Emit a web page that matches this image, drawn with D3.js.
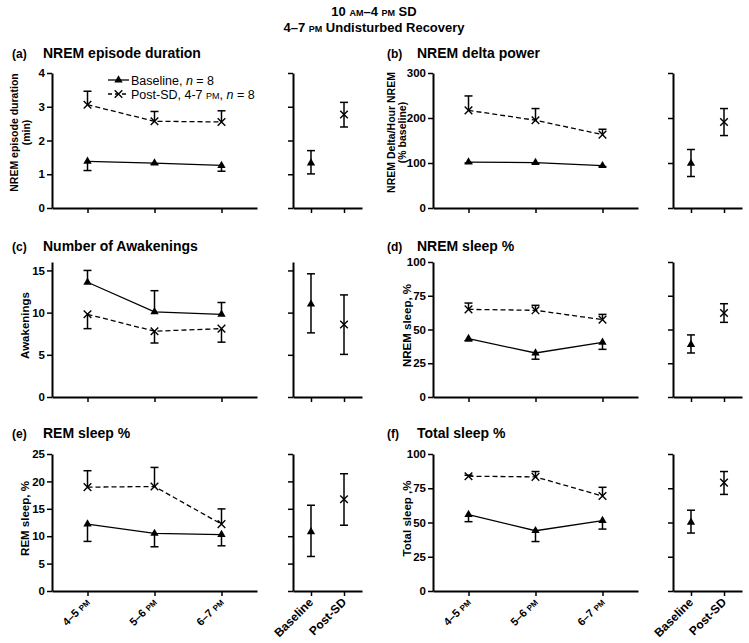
<!DOCTYPE html>
<html><head><meta charset="utf-8">
<script src="https://cdn.jsdelivr.net/npm/d3@7"></script>
<style>
html,body{margin:0;padding:0;background:#fff;}
svg{display:block;font-family:"Liberation Sans",Arial,Helvetica,sans-serif;}
</style></head>
<body>
<svg id="chart" width="749" height="643"></svg>
<script>
// ---------- DATA ----------
const timeLabels = ["4–5 PM", "5–6 PM", "6–7 PM"];
const sideLabels = ["Baseline", "Post-SD"];
const panelIds = ["a", "b", "c", "d", "e", "f"];
const panelTitles = ["NREM episode duration", "NREM delta power", "Number of Awakenings", "NREM sleep %", "REM sleep %", "Total sleep %"];
const yLabels = [["NREM episode duration", "(min)"], ["NREM Delta/Hour NREM", "(% baseline)"], ["Awakenings"], ["NREM sleep, %"], ["REM sleep, %"], ["Total sleep ,%"]];
const yMax = [4, 300, 16, 100, 25, 100];
const yTicks = [[0,1,2,3,4],[0,100,200,300],[0,5,10,15],[0,25,50,75,100],[0,5,10,15,20,25],[0,25,50,75,100]];
// hourly means and the end of the (one-sided) error bar
const baselineMean = [[1.38,1.33,1.26],[102,101,94],[13.6,10.1,9.8],[43.2,32.6,40.5],[12.2,10.5,10.3],[55.8,44.0,51.4]];
const baselineErr  = [[1.11,1.30,1.09],[100,99,92],[15.0,12.6,11.2],[41.5,28.0,35.3],[9.05,8.07,8.25],[50.6,36.1,45.2]];
const postSDMean   = [[3.06,2.57,2.55],[217,195,163],[9.8,7.8,8.1],[64.9,64.2,57.3],[18.95,19.07,12.2],[83.8,83.3,69.3]];
const postSDErr    = [[3.46,2.86,2.88],[249,221,175],[8.1,6.4,6.5],[69.6,67.9,61.2],[21.95,22.55,14.98],[84.5,87.2,75.7]];
// overall (3-h) means with [low, high]
const sideBaselineMean = [1.33, 99, 11.0, 38.8, 10.8, 50.1];
const sideBaselineRange = [[1.01,1.70],[70,130],[7.6,14.6],[32.6,46.0],[6.3,15.65],[42.3,58.97]];
const sidePostMean = [2.77, 191, 8.6, 62.2, 16.75, 79.1];
const sidePostRange = [[2.40,3.13],[161,221],[5.05,12.1],[55.3,69.1],[12.0,21.4],[70.5,87.2]];

// ---------- LAYOUT ----------
const svg = d3.select("#chart");
const cols = [
  {yAxisX:52, mainEnd:257, sideX0:293, sideEnd:362, labX:12, titleX:43, ylab:[18,30], ylab1:29},
  {yAxisX:433, mainEnd:638, sideX0:673, sideEnd:742, labX:387, titleX:417, ylab:[395,406], ylab1:411}
];
const rows = [
  {top:73, bottom:208, titleY:58},
  {top:262, bottom:397, titleY:251},
  {top:454, bottom:591, titleY:438}
];

// main title
const t1 = svg.append("text").attr("x", 374).attr("y", 16).attr("text-anchor","middle")
  .attr("font-weight","bold").attr("font-size",13);
t1.append("tspan").text("10 ");
t1.append("tspan").attr("font-size",9).text("AM");
t1.append("tspan").text("–4 ");
t1.append("tspan").attr("font-size",9).text("PM");
t1.append("tspan").text(" SD");
const t2 = svg.append("text").attr("x", 374).attr("y", 32).attr("text-anchor","middle")
  .attr("font-weight","bold").attr("font-size",13);
t2.append("tspan").text("4–7 ");
t2.append("tspan").attr("font-size",9).text("PM");
t2.append("tspan").text(" Undisturbed Recovery");

function styleAxis(g){
  g.select(".domain").attr("stroke","#000").attr("stroke-width",2);
  g.selectAll(".tick line").attr("stroke","#000").attr("stroke-width",1.5);
  g.selectAll(".tick text").attr("fill","#000").attr("font-weight","bold").attr("font-size",11.5)
    .attr("font-family","'Liberation Sans',Arial,sans-serif");
}

const tri = d3.symbol().type(d3.symbolTriangle).size(30);
function drawTri(g, x, y){ g.append("path").attr("d", tri()).attr("transform",`translate(${x},${y})`).attr("fill","#000"); }
function drawCross(g, x, y){
  g.append("path").attr("d","M-3.8,-3.8L3.8,3.8M-3.8,3.8L3.8,-3.8")
   .attr("transform",`translate(${x},${y})`).attr("stroke","#000").attr("stroke-width",1.4).attr("fill","none");
}
function errBar(g, x, y0, y1, caps){
  g.append("line").attr("x1",x).attr("x2",x).attr("y1",y0).attr("y2",y1).attr("stroke","#000").attr("stroke-width",1.5);
  caps.forEach(cy => g.append("line").attr("x1",x-4).attr("x2",x+4).attr("y1",cy).attr("y2",cy).attr("stroke","#000").attr("stroke-width",1.5));
}
const diag = (tx, ty) => `matrix(0.7071,-0.7071,0.7071,0.7071,${tx},${ty})`;

panelIds.forEach((id, i) => {
  const c = cols[i % 2], r = rows[Math.floor(i / 2)];
  const g = svg.append("g");
  const y = d3.scaleLinear().domain([0, yMax[i]]).range([r.bottom, r.top]);
  const x = d3.scalePoint().domain(timeLabels).range([c.yAxisX, c.mainEnd]).padding(0.53);
  const xs = d3.scalePoint().domain(sideLabels).range([c.sideX0, c.sideEnd]).padding(0.545);

  // title
  g.append("text").attr("x", c.labX).attr("y", r.titleY).attr("font-weight","bold").attr("font-size",12).text(`(${id})`);
  g.append("text").attr("x", c.titleX).attr("y", r.titleY).attr("font-weight","bold").attr("font-size",14).text(panelTitles[i]);

  // axes
  const ya = g.append("g").attr("transform",`translate(${c.yAxisX},0)`)
    .call(d3.axisLeft(y).tickValues(yTicks[i]).tickSize(5).tickSizeOuter(0).tickPadding(2).tickFormat(d3.format("d")));
  styleAxis(ya);
  const ys = g.append("g").attr("transform",`translate(${c.sideX0},0)`)
    .call(d3.axisLeft(y).tickValues(yTicks[i]).tickSize(5).tickSizeOuter(0).tickFormat(""));
  styleAxis(ys);
  const xa = g.append("g").attr("transform",`translate(0,${r.bottom})`)
    .call(d3.axisBottom(x).tickSize(5).tickSizeOuter(0).tickFormat(""));
  styleAxis(xa);
  const xsa = g.append("g").attr("transform",`translate(0,${r.bottom})`)
    .call(d3.axisBottom(xs).tickSize(5).tickSizeOuter(0).tickFormat(""));
  styleAxis(xsa);

  // y label
  const lines = yLabels[i];
  const ymid = (r.top + r.bottom) / 2 - (lines.length === 2 ? 8 : 4);
  lines.forEach((ln, k) => {
    const bx = lines.length === 1 ? c.ylab1 : c.ylab[k];
    g.append("g").attr("transform",`translate(${bx},${ymid})`)
      .append("text").attr("transform","rotate(-90)")
      .attr("text-anchor","middle").attr("font-weight","bold").attr("font-size", lines.length === 1 ? 11.5 : 10.5).text(ln);
  });

  // bottom row x labels (rotated 45°)
  if (Math.floor(i / 2) === 2) {
    timeLabels.forEach(lab => {
      const parts = lab.split(" ");
      const t = g.append("text").attr("transform", diag(x(lab) + 3, r.bottom + 12))
        .attr("text-anchor","end").attr("font-weight","bold").attr("font-size",11);
      t.append("tspan").text(parts[0] + " ");
      t.append("tspan").attr("font-size",8).text(parts[1]);
    });
    sideLabels.forEach(lab => {
      g.append("text").attr("transform", diag(xs(lab) + 3, r.bottom + 12))
        .attr("text-anchor","end").attr("font-weight","bold").attr("font-size",12).text(lab);
    });
  }

  // lines
  const line = d3.line().x((d, k) => x(timeLabels[k])).y(d => y(d));
  g.append("path").attr("d", line(baselineMean[i])).attr("fill","none").attr("stroke","#000").attr("stroke-width",1.3);
  g.append("path").attr("d", line(postSDMean[i])).attr("fill","none").attr("stroke","#000").attr("stroke-width",1.3).attr("stroke-dasharray","5,3");

  // error bars
  baselineMean[i].forEach((v, k) => errBar(g, x(timeLabels[k]), y(v), y(baselineErr[i][k]), [y(baselineErr[i][k])]));
  postSDMean[i].forEach((v, k) => errBar(g, x(timeLabels[k]), y(v), y(postSDErr[i][k]), [y(postSDErr[i][k])]));
  errBar(g, xs("Baseline"), y(sideBaselineRange[i][0]), y(sideBaselineRange[i][1]), [y(sideBaselineRange[i][0]), y(sideBaselineRange[i][1])]);
  errBar(g, xs("Post-SD"), y(sidePostRange[i][0]), y(sidePostRange[i][1]), [y(sidePostRange[i][0]), y(sidePostRange[i][1])]);

  // markers
  baselineMean[i].forEach((v, k) => drawTri(g, x(timeLabels[k]), y(v)));
  postSDMean[i].forEach((v, k) => drawCross(g, x(timeLabels[k]), y(v)));
  drawTri(g, xs("Baseline"), y(sideBaselineMean[i]));
  drawCross(g, xs("Post-SD"), y(sidePostMean[i]));

  // legend in panel (a)
  if (i === 0) {
    const lg = g.append("g");
    lg.append("line").attr("x1",108).attr("x2",129).attr("y1",80).attr("y2",80).attr("stroke","#000").attr("stroke-width",1.3);
    drawTri(lg, 118.5, 80);
    const lt1 = lg.append("text").attr("x",131).attr("y",84.5).attr("font-size",12.5);
    lt1.append("tspan").text("Baseline, ");
    lt1.append("tspan").attr("font-style","italic").text("n");
    lt1.append("tspan").text(" = 8");
    lg.append("line").attr("x1",108).attr("x2",129).attr("y1",94).attr("y2",94).attr("stroke","#000").attr("stroke-width",1.3).attr("stroke-dasharray","4,3");
    drawCross(lg, 118.5, 94);
    const lt2 = lg.append("text").attr("x",131).attr("y",98.5).attr("font-size",12.5);
    lt2.append("tspan").text("Post-SD, 4-7 ");
    lt2.append("tspan").attr("font-size",9).text("PM");
    lt2.append("tspan").text(", ");
    lt2.append("tspan").attr("font-style","italic").text("n");
    lt2.append("tspan").text(" = 8");
  }
});
</script>
</body></html>
